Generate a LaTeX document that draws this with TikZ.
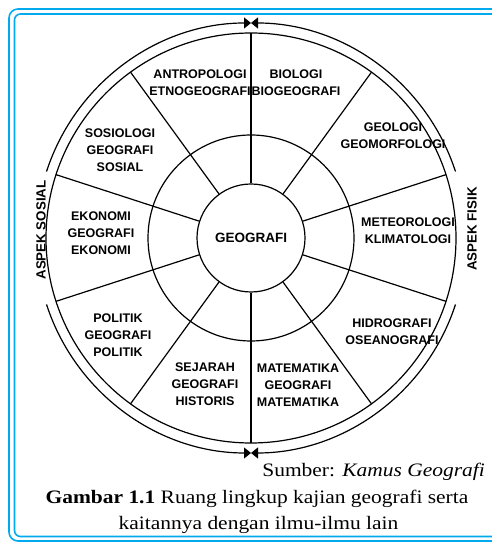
\documentclass[tikz,border=0pt]{standalone}
\usepackage{fontspec}
\setmainfont{Liberation Serif}
\setsansfont{Liberation Sans}
\newfontfamily\capfont[FakeStretch=1.13]{Liberation Serif}
\usetikzlibrary{arrows.meta,calc}
\definecolor{framecyan}{RGB}{0,170,236}
\begin{document}
\begin{tikzpicture}[x=1pt,y=1pt,
  ln/.style={line width=1.2pt},
  lbl/.style={font=\sffamily\bfseries\fontsize{12.5}{17}\selectfont, align=center, inner sep=0pt},
  aspect/.style={font=\sffamily\bfseries\fontsize{13.3}{15}\selectfont, rotate=90, inner sep=0pt},
  tipped/.style={line width=1.2pt, -{Triangle[length=7pt,width=11pt]}},
  framel/.style={draw=framecyan, line width=1.6pt},
  capt/.style={font=\capfont\fontsize{19}{26}\selectfont, inner sep=0pt}]
\useasboundingbox (0,0) rectangle (491,545);
% frame
\draw[framel, rounded corners=9pt] (540,536) -- (9,536) -- (9,4) -- (540,4);
\draw[framel, rounded corners=6pt] (540,531) -- (14.5,531) -- (14.5,8.5) -- (540,8.5);
% wheel
\coordinate (C) at (251,307);
\node[circle, draw, line width=1.2pt, minimum size=108pt, inner sep=0pt,
      font=\sffamily\bfseries\fontsize{13.5}{15}\selectfont] (core) at (C) {GEOGRAFI};
\draw[ln] (C) circle[radius=103];
\draw[ln] (C) circle[radius=205];
\foreach \a in {90,126,162,198,234,270,306,342,18,54}{
  \coordinate (rim\a) at ($(C)+(\a:205)$);
  \draw[ln] (core.\a) -- (rim\a);
}
% aspect arcs
\coordinate (topL) at ($(C)+(162:215)$);
\coordinate (topR) at ($(C)+(18:215)$);
\coordinate (botL) at ($(C)+(198:215)$);
\coordinate (botR) at ($(C)+(-18:215)$);
\draw[tipped] (topL) arc[start angle=162, end angle=90, radius=215];
\draw[tipped] (topR) arc[start angle=18, end angle=90, radius=215];
\draw[tipped] (botL) arc[start angle=198, end angle=270, radius=215];
\draw[tipped] (botR) arc[start angle=-18, end angle=-90, radius=215];
\node[aspect] (sosial) at (41,315) {ASPEK SOSIAL};
\node[aspect] (fisik) at (472,316) {ASPEK FISIK};
% labels
\node[lbl] (antro) at (200,462.5) {ANTROPOLOGI\\ETNOGEOGRAFI};
\node[lbl] (bio) at (296,462.5) {BIOLOGI\\BIOGEOGRAFI};
\node[lbl] (geo) at (393,409) {GEOLOGI\\GEOMORFOLOGI};
\node[lbl] (meteo) at (408,314) {METEOROLOGI\\KLIMATOLOGI};
\node[lbl] (hidro) at (392,213.5) {HIDROGRAFI\\OSEANOGRAFI};
\node[lbl] (mat) at (298,160) {MATEMATIKA\\GEOGRAFI\\MATEMATIKA};
\node[lbl] (sej) at (205,161) {SEJARAH\\GEOGRAFI\\HISTORIS};
\node[lbl] (pol) at (118,210) {POLITIK\\GEOGRAFI\\POLITIK};
\node[lbl] (eko) at (101,312) {EKONOMI\\GEOGRAFI\\EKONOMI};
\node[lbl] (sos) at (120,395) {SOSIOLOGI\\GEOGRAFI\\SOSIAL};
% caption
\node[capt, anchor=base east] (src) at (485,68) {Sumber: \textit{Kamus Geografi}};
\node[capt, anchor=base] (cap1) at (257,41) {\textbf{Gambar 1.1} Ruang lingkup kajian geografi serta};
\node[capt, anchor=base] (cap2) at (258.5,15) {kaitannya dengan ilmu-ilmu lain};
\end{tikzpicture}
\end{document}
